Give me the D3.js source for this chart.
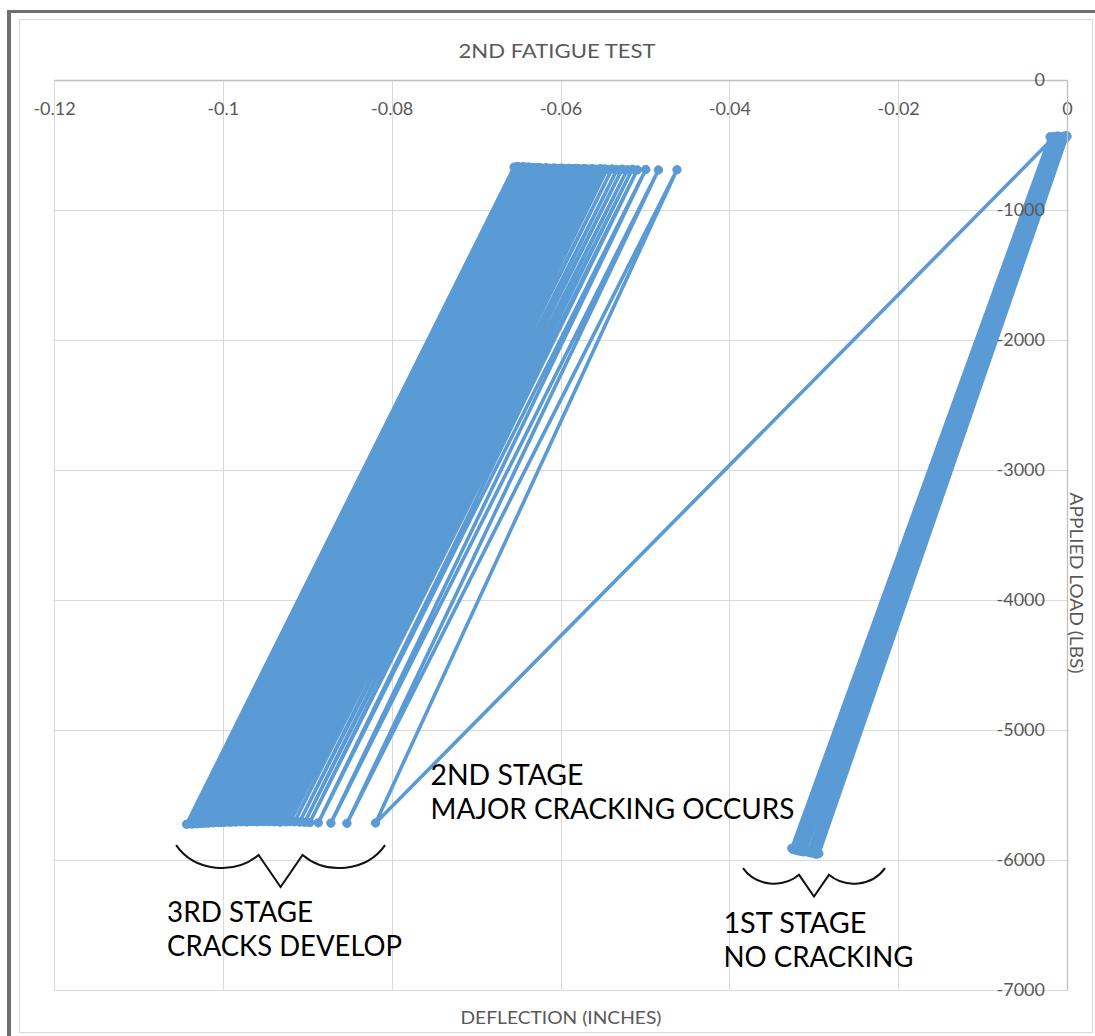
<!DOCTYPE html>
<html>
<head>
<meta charset="utf-8">
<script src="https://cdn.jsdelivr.net/npm/d3@7/dist/d3.min.js"></script>
<style>
  html, body { margin: 0; padding: 0; background: #ffffff; }
  svg { display: block; }
  text { font-family: Lato, "Open Sans", "Liberation Sans", sans-serif; }
</style>
</head>
<body>
<svg id="chart" width="1095" height="1036"></svg>
<script>
// Axis ticks
const xTickValues = [-0.12, -0.1, -0.08, -0.06, -0.04, -0.02, 0];
const xTickLabels = ["-0.12", "-0.1", "-0.08", "-0.06", "-0.04", "-0.02", "0"];
const yTickValues = [0, -1000, -2000, -3000, -4000, -5000, -6000, -7000];
const yTickLabels = ["0", "-1000", "-2000", "-3000", "-4000", "-5000", "-6000", "-7000"];

// Stage 1: cycles between low load (top) and peak load (bottom), no cracking
const stage1TopDeflection = [-0.0000, -0.0001, -0.0001, -0.0002, -0.0003, -0.0004, -0.0004, -0.0005, -0.0006, -0.0007, -0.0008,
                             -0.0009, -0.0010, -0.0011, -0.0012, -0.0013, -0.0014, -0.0015, -0.0016, -0.0017, -0.0019, -0.0020];
const stage1TopLoad = [-432, -441, -428, -450, -437, -445, -433, -452, -440, -447, -436,
                       -455, -443, -431, -449, -438, -446, -434, -452, -441, -448, -437];
const stage1BottomDeflection = [-0.0294, -0.0295, -0.0297, -0.0298, -0.0300, -0.0301, -0.0303, -0.0304, -0.0306, -0.0310, -0.0312,
                                -0.0313, -0.0315, -0.0316, -0.0318, -0.0319, -0.0320, -0.0321, -0.0322, -0.0323, -0.0325, -0.0326];
const stage1BottomLoad = [-5950, -5944, -5956, -5940, -5948, -5936, -5945, -5932, -5941, -5928, -5937,
                          -5925, -5933, -5921, -5930, -5918, -5926, -5915, -5922, -5912, -5918, -5910];

// Stage 2: single jump when major cracking occurs
const stage2Deflection = [-0.0016];
const stage2Load = [-445];

// Stage 3: cycles after cracking (peak first, then unloading)
const stage3BottomDeflection = [-0.0819, -0.0853, -0.0872, -0.0887, -0.0897, -0.0903, -0.0909, -0.0915, -0.0920, -0.0925,
                                -0.0929, -0.0932, -0.0936, -0.0939, -0.0942, -0.0946, -0.0949, -0.0952, -0.0955, -0.0959,
                                -0.0962, -0.0965, -0.0968, -0.0972, -0.0975, -0.0978, -0.0981, -0.0985, -0.0988, -0.0991,
                                -0.0994, -0.0998, -0.1001, -0.1004, -0.1007, -0.1011, -0.1014, -0.1017, -0.1020, -0.1024,
                                -0.1027, -0.1030, -0.1033, -0.1036, -0.1039, -0.1043];
const stage3BottomLoad = [-5715, -5718, -5716, -5714, -5712, -5710, -5708, -5706, -5704, -5706,
                          -5703, -5708, -5702, -5706, -5701, -5705, -5700, -5704, -5702, -5706,
                          -5701, -5705, -5703, -5707, -5702, -5706, -5704, -5708, -5705, -5709,
                          -5706, -5710, -5708, -5712, -5710, -5714, -5712, -5716, -5715, -5718,
                          -5717, -5721, -5719, -5723, -5721, -5725];
const stage3TopDeflection = [-0.0462, -0.0484, -0.0499, -0.0509, -0.0515, -0.0521, -0.0527, -0.0533, -0.0539, -0.0545,
                             -0.0548, -0.0551, -0.0553, -0.0557, -0.0560, -0.0563, -0.0565, -0.0569, -0.0572, -0.0575,
                             -0.0578, -0.0581, -0.0584, -0.0586, -0.0590, -0.0593, -0.0596, -0.0599, -0.0602, -0.0605,
                             -0.0608, -0.0611, -0.0613, -0.0617, -0.0620, -0.0623, -0.0626, -0.0629, -0.0632, -0.0635,
                             -0.0638, -0.0641, -0.0644, -0.0647, -0.0651, -0.0655];
const stage3TopLoad = [-690, -692, -688, -691, -687, -690, -686, -689, -685, -688,
                       -684, -689, -683, -687, -686, -682, -688, -684, -681, -686,
                       -683, -680, -685, -682, -679, -684, -681, -678, -683, -680,
                       -677, -682, -679, -675, -680, -676, -673, -678, -672, -675,
                       -669, -673, -667, -671, -665, -670];

// Annotation text and brace spans (deflection range, load at brace top)
const stageLabels = [
  { lines: ["2ND STAGE", "MAJOR CRACKING OCCURS"], x: -0.0754, load: -5423, widths: [153, 364] },
  { lines: ["3RD STAGE", "CRACKS DEVELOP"], x: -0.1066, load: -6477, widths: [146, 235] },
  { lines: ["1ST STAGE", "NO CRACKING"], x: -0.0407, load: -6562, widths: [143, 190] }
];
const braces = [
  { x0: -0.10554, x1: -0.08078, load: -5885 },
  { x0: -0.03838, x1: -0.02156, load: -6062 }
];

// Build the recorded sequence in test order
const points = [];
stage1TopDeflection.forEach((d, i) => {
  points.push([d, stage1TopLoad[i]]);
  points.push([stage1BottomDeflection[i], stage1BottomLoad[i]]);
});
stage2Deflection.forEach((d, i) => points.push([d, stage2Load[i]]));
stage3BottomDeflection.forEach((d, i) => {
  points.push([d, stage3BottomLoad[i]]);
  points.push([stage3TopDeflection[i], stage3TopLoad[i]]);
});

const W = 1095, H = 1036;
const svg = d3.select("#chart");
const plot = { left: 54, right: 1067, top: 80, bottom: 990 };

const x = d3.scaleLinear().domain([-0.12, 0]).range([plot.left, plot.right]);
const y = d3.scaleLinear().domain([0, -7000]).range([plot.top, plot.bottom]);

// Window frame and chart area
svg.append("rect").attr("width", W).attr("height", H).attr("fill", "#ffffff");
svg.append("rect").attr("x", 7).attr("y", 10).attr("width", W - 7).attr("height", 3).attr("fill", "#6e6e6e");
svg.append("rect").attr("x", 7).attr("y", 10).attr("width", 4).attr("height", H - 10).attr("fill", "#6e6e6e");
svg.append("rect").attr("x", 19.5).attr("y", 19.5).attr("width", 1073).attr("height", 1013)
  .attr("fill", "#ffffff").attr("stroke", "#d9d9d9").attr("stroke-width", 1);

// Gridlines
svg.append("g").selectAll("line.vg").data(xTickValues).join("line")
  .attr("x1", d => Math.round(x(d)) + 0.5).attr("x2", d => Math.round(x(d)) + 0.5)
  .attr("y1", plot.top).attr("y2", plot.bottom)
  .attr("stroke", "#d9d9d9").attr("stroke-width", 1);
svg.append("g").selectAll("line.hg").data(yTickValues).join("line")
  .attr("y1", d => Math.round(y(d)) + 0.5).attr("y2", d => Math.round(y(d)) + 0.5)
  .attr("x1", plot.left).attr("x2", plot.right)
  .attr("stroke", "#d9d9d9").attr("stroke-width", 1);

// Series: lines first, then markers
const line = d3.line().x(p => x(p[0])).y(p => y(p[1]));
svg.append("path").datum(points).attr("d", line)
  .attr("fill", "none").attr("stroke", "#5b9bd5").attr("stroke-width", 3.6)
  .attr("stroke-linejoin", "round").attr("stroke-linecap", "round");
svg.append("g").selectAll("circle").data(points).join("circle")
  .attr("cx", p => x(p[0])).attr("cy", p => y(p[1])).attr("r", 4.2)
  .attr("fill", "#5b9bd5").attr("stroke", "#5b9bd5").attr("stroke-width", 1);

// Axes (both cross at the origin: top edge and right edge)
const xAxis = d3.axisBottom(x).tickValues(xTickValues)
  .tickFormat((d, i) => xTickLabels[i]).tickSize(0).tickPadding(22);
const gx = svg.append("g").attr("transform", `translate(0,${plot.top})`).call(xAxis);
gx.select(".domain").attr("stroke", "#bfbfbf").attr("stroke-width", 1.3);
gx.selectAll("text").attr("fill", "#595959").attr("font-size", 18).attr("dy", "0.71em");

const yAxis = d3.axisLeft(y).tickValues(yTickValues)
  .tickFormat((d, i) => yTickLabels[i]).tickSize(0).tickPadding(22);
const gy = svg.append("g").attr("transform", `translate(${plot.right},0)`).call(yAxis);
gy.select(".domain").attr("stroke", "#bfbfbf").attr("stroke-width", 1.3);
gy.selectAll("text").attr("fill", "#595959").attr("font-size", 18);

// Titles
svg.append("text").attr("x", 557).attr("y", 58).attr("text-anchor", "middle")
  .attr("fill", "#595959").attr("font-size", 20)
  .attr("textLength", 197).attr("lengthAdjust", "spacingAndGlyphs")
  .text("2ND FATIGUE TEST");
svg.append("text").attr("x", 561).attr("y", 1024).attr("text-anchor", "middle")
  .attr("fill", "#595959").attr("font-size", 18)
  .attr("textLength", 201).attr("lengthAdjust", "spacingAndGlyphs")
  .text("DEFLECTION (INCHES)");
svg.append("text").attr("transform", "translate(1070,583) rotate(90)").attr("text-anchor", "middle")
  .attr("fill", "#595959").attr("font-size", 18)
  .attr("textLength", 181).attr("lengthAdjust", "spacingAndGlyphs")
  .text("APPLIED LOAD (LBS)");

// Stage annotations
stageLabels.forEach(s => {
  s.lines.forEach((t, i) => {
    svg.append("text").attr("x", x(s.x)).attr("y", y(s.load) + i * 34)
      .attr("fill", "#000000").attr("font-size", 28)
      .attr("textLength", s.widths[i]).attr("lengthAdjust", "spacingAndGlyphs")
      .text(t);
  });
});

// Curly braces under the stage clusters
braces.forEach(b => {
  const x0 = x(b.x0), x1 = x(b.x1), y0 = y(b.load);
  const k = (x1 - x0) / 209;
  const cx = (x0 + x1) / 2;
  const p = d3.path();
  p.moveTo(x0, y0);
  p.bezierCurveTo(x0 + 19 * k, y0 + 27 * k, x0 + 59 * k, y0 + 30 * k, cx - 22 * k, y0 + 10 * k);
  p.lineTo(cx, y0 + 42 * k);
  p.lineTo(cx + 22 * k, y0 + 10 * k);
  p.bezierCurveTo(x1 - 59 * k, y0 + 30 * k, x1 - 19 * k, y0 + 27 * k, x1, y0);
  svg.append("path").attr("d", p.toString()).attr("fill", "none")
    .attr("stroke", "#111111").attr("stroke-width", 2).attr("stroke-linejoin", "miter");
});
</script>
</body>
</html>
